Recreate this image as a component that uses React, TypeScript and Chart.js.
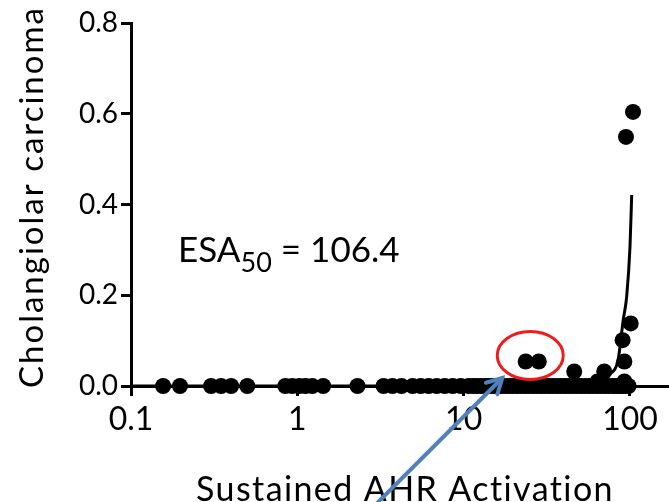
import React, { useEffect, useRef } from "react";
import { Chart, registerables } from "chart.js";

Chart.register(...registerables);

// Axis ticks
const xTickValues = [0.1, 1, 10, 100];
const xTickLabels = ["0.1", "1", "10", "100"];
const yTickValues = [0, 0.2, 0.4, 0.6, 0.8];

// Observations sitting on the zero line (activation values)
const baselineX = [
  0.156, 0.197, 0.303, 0.348, 0.4, 0.5, 0.847, 0.933, 1.03, 1.12, 1.23, 1.43,
  2.3, 3.3, 3.73, 4.23, 4.93, 5.51, 6.15, 6.88, 7.69, 8.59, 9.6, 10.7, 11.4,
  12.0, 12.7, 13.4, 14.1, 14.9, 15.8, 16.7, 17.7, 18.7, 19.7, 20.8, 22.0, 23.3,
  24.6, 26.0, 27.5, 29.1, 30.7, 32.5, 34.3, 36.3, 38.4, 40.6, 42.9, 45.3, 48.0,
  50.7, 53.6, 56.6, 59.8, 63.2, 66.8, 70.7, 74.6, 79.0, 82.5, 85.9, 89.5, 93.3,
  98.0,
];

// Observations with a non-zero incidence
const raisedX = [23.6, 28.3, 46.2, 63.8, 70.0, 92.5, 92.5, 90.3, 101, 94.6, 104.3];
const raisedY = [0.054, 0.054, 0.032, 0.01, 0.032, 0.01, 0.054, 0.101, 0.138, 0.549, 0.604];

// Fitted dose-response curve
const fitX = [0.1, 1, 10, 40, 60, 75, 85, 91, 95.5, 100, 102.4];
const fitY = [0, 0, 0, 0.002, 0.008, 0.025, 0.06, 0.145, 0.197, 0.307, 0.421];

const FONT = "Lato, 'Open Sans', sans-serif";

// The x-axis runs on past the right edge of the visible frame
const CANVAS_W = 678;
const FRAME_W = 669;
const FRAME_H = 502;

const overlay = {
  id: "overlay",
  afterDraw(chart: any) {
    const ctx = chart.ctx as any;
    const xs = chart.scales.x;
    const ys = chart.scales.y;
    ctx.save();

    // Y-axis title
    ctx.save();
    ctx.translate(32, 197);
    ctx.rotate(-Math.PI / 2);
    ctx.fillStyle = "#000";
    ctx.font = `33px ${FONT}`;
    ctx.letterSpacing = "2px";
    ctx.textAlign = "center";
    ctx.textBaseline = "middle";
    ctx.fillText("Cholangiolar carcinoma", 0, 0);
    ctx.restore();

    // X-axis title
    ctx.save();
    ctx.fillStyle = "#000";
    ctx.font = `34px ${FONT}`;
    ctx.letterSpacing = "1.4px";
    ctx.textAlign = "center";
    ctx.textBaseline = "alphabetic";
    ctx.fillText("Sustained AHR Activation", 405, 501);
    ctx.restore();

    // ESA50 annotation
    const tx = xs.getPixelForValue(0.192);
    const ty = ys.getPixelForValue(0.273);
    ctx.fillStyle = "#000";
    ctx.textAlign = "left";
    ctx.textBaseline = "alphabetic";
    ctx.font = `35px ${FONT}`;
    ctx.fillText("ESA", tx, ty);
    let w = ctx.measureText("ESA").width;
    ctx.font = `27px ${FONT}`;
    ctx.fillText("50", tx + w, ty + 10);
    w += ctx.measureText("50").width;
    ctx.font = `35px ${FONT}`;
    ctx.fillText(" = 106.4", tx + w, ty);

    // Ring around the two circled observations
    const p1x = xs.getPixelForValue(raisedX[0]);
    const p2x = xs.getPixelForValue(raisedX[1]);
    const py = ys.getPixelForValue(raisedY[0]);
    const cx = (p1x + p2x) / 2 - 2;
    const cy = py - 6;
    ctx.beginPath();
    ctx.ellipse(cx, cy, 33, 24, 0, 0, Math.PI * 2);
    ctx.strokeStyle = "#ee1c1c";
    ctx.lineWidth = 3;
    ctx.stroke();

    // Pointer arrow
    const tipX = cx - 28;
    const tipY = cy + 22.5;
    const tailX = tipX - 128;
    const tailY = tipY + 128;
    const ang = Math.atan2(tipY - tailY, tipX - tailX);
    ctx.strokeStyle = "#4f81bd";
    ctx.lineWidth = 4;
    ctx.lineCap = "round";
    ctx.beginPath();
    ctx.moveTo(tailX, tailY);
    ctx.lineTo(tipX, tipY);
    ctx.stroke();
    const head = 17;
    ctx.beginPath();
    ctx.moveTo(tipX - head * Math.cos(ang - 0.5), tipY - head * Math.sin(ang - 0.5));
    ctx.lineTo(tipX, tipY);
    ctx.lineTo(tipX - head * Math.cos(ang + 0.5), tipY - head * Math.sin(ang + 0.5));
    ctx.lineJoin = "miter";
    ctx.stroke();

    ctx.restore();
  },
};

export default function App() {
  const ref = useRef<HTMLCanvasElement | null>(null);

  useEffect(() => {
    if (!ref.current) return;
    const chart = new Chart(ref.current, {
      type: "scatter",
      data: {
        datasets: [
          {
            type: "line",
            label: "fit",
            data: fitX.map((x, i) => ({ x, y: fitY[i] })),
            borderColor: "#000",
            borderWidth: 3,
            pointRadius: 0,
            cubicInterpolationMode: "monotone",
            fill: false,
            clip: false,
          } as any,
          {
            label: "zero",
            data: baselineX.map((x) => ({ x, y: 0 })),
            backgroundColor: "#000",
            borderWidth: 0,
            pointRadius: 8,
            clip: false,
          } as any,
          {
            label: "raised",
            data: raisedX.map((x, i) => ({ x, y: raisedY[i] })),
            backgroundColor: "#000",
            borderWidth: 0,
            pointRadius: 8,
            clip: false,
          } as any,
        ],
      },
      options: {
        animation: false,
        responsive: false,
        maintainAspectRatio: false,
        events: [],
        layout: { padding: { top: 23, right: 0, bottom: 0, left: 0 } },
        plugins: { legend: { display: false }, tooltip: { enabled: false } },
        scales: {
          x: {
            type: "logarithmic",
            min: 0.1,
            max: 174,
            afterFit: (s: any) => {
              s.height = 116;
            },
            afterBuildTicks: (s: any) => {
              s.ticks = xTickValues.map((v) => ({ value: v }));
            },
            ticks: {
              color: "#000",
              font: { family: FONT, size: 32 },
              padding: 4,
              maxRotation: 0,
              autoSkip: false,
              callback: (v: any) => {
                const i = xTickValues.indexOf(Number(v));
                return i >= 0 ? xTickLabels[i] : "";
              },
            },
            grid: {
              display: true,
              drawOnChartArea: false,
              drawTicks: true,
              tickLength: 10,
              color: "#000",
              lineWidth: 3,
            },
            border: { display: true, color: "#000", width: 3 },
          },
          y: {
            type: "linear",
            min: 0,
            max: 0.8,
            afterFit: (s: any) => {
              s.width = 131;
            },
            afterBuildTicks: (s: any) => {
              s.ticks = yTickValues.map((v) => ({ value: v }));
            },
            ticks: {
              color: "#000",
              font: { family: FONT, size: 28 },
              padding: 3,
              callback: (v: any) => Number(v).toFixed(1),
            },
            grid: {
              display: true,
              drawOnChartArea: false,
              drawTicks: true,
              tickLength: 10,
              color: "#000",
              lineWidth: 3,
            },
            border: { display: true, color: "#000", width: 3 },
          },
        },
      },
      plugins: [overlay],
    });
    return () => chart.destroy();
  }, []);

  return (
    <div
      style={{
        position: "fixed",
        left: 0,
        top: 0,
        width: FRAME_W,
        height: FRAME_H,
        overflow: "hidden",
        background: "#fff",
      }}
    >
      <canvas
        ref={ref}
        width={CANVAS_W}
        height={FRAME_H}
        style={{ display: "block", width: CANVAS_W, height: FRAME_H }}
      />
    </div>
  );
}
